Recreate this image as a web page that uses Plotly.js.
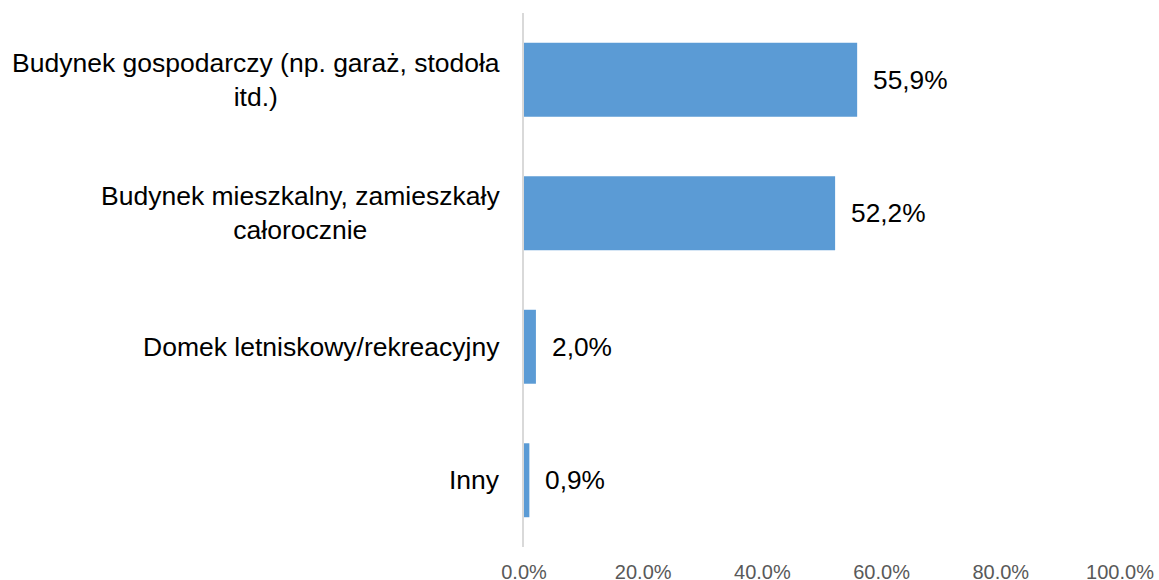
<!DOCTYPE html>
<html>
<head>
<meta charset="utf-8">
<script src="https://cdn.plot.ly/plotly-3.0.1.min.js"></script>
<style>html,body{margin:0;padding:0;background:#fff;}#chart{width:1159px;height:580px;}</style>
</head>
<body>
<div id="chart"></div>
<script>
const categories = [
  "Budynek gospodarczy (np. garaż, stodoła<br>itd.)",
  "Budynek mieszkalny, zamieszkały<br>całorocznie",
  "Domek letniskowy/rekreacyjny",
  "Inny"
];
const values = [0.559, 0.522, 0.020, 0.009];
const xTickVals = [0, 0.2, 0.4, 0.6, 0.8, 1.0];
const xTickText = ["0.0%", "20.0%", "40.0%", "60.0%", "80.0%", "100.0%"];

const FONT = "Liberation Sans, Arial, sans-serif";
const ids = categories.map((c, i) => "c" + i);

const trace = {
  type: "bar",
  orientation: "h",
  x: values,
  y: ids,
  marker: {color: "#5B9BD5"},
  hoverinfo: "none"
};

const annotations = [];
categories.forEach((c, i) => {
  annotations.push({
    xref: "paper", yref: "y", x: 0, y: ids[i],
    xanchor: "right", yanchor: "middle", xshift: -22,
    text: c, align: "center", showarrow: false,
    font: {family: FONT, size: 26.5, color: "#000000"}
  });
  annotations.push({
    xref: "x", yref: "y", x: values[i], y: ids[i],
    xanchor: "left", yanchor: "middle", xshift: 14,
    text: (values[i] * 100).toFixed(1).replace(".", ",") + "%",
    showarrow: false,
    font: {family: FONT, size: 26.3, color: "#000000"}
  });
});

const layout = {
  width: 1159, height: 580,
  margin: {l: 524, r: 39, t: 13, b: 33},
  paper_bgcolor: "#ffffff", plot_bgcolor: "#ffffff",
  showlegend: false,
  bargap: 0.446,
  font: {family: FONT},
  xaxis: {
    range: [0, 1],
    tickvals: xTickVals, ticktext: xTickText,
    showgrid: false, zeroline: false, showline: false,
    ticks: "", ticklabelstandoff: 11,
    tickfont: {family: FONT, size: 20, color: "#595959"},
    fixedrange: true
  },
  yaxis: {
    type: "category",
    autorange: "reversed",
    showticklabels: false,
    showgrid: false, zeroline: false,
    showline: true, linecolor: "#d9d9d9", linewidth: 2,
    ticks: "",
    fixedrange: true
  },
  annotations: annotations
};

Plotly.newPlot("chart", [trace], layout, {displayModeBar: false, staticPlot: true});
</script>
</body>
</html>
